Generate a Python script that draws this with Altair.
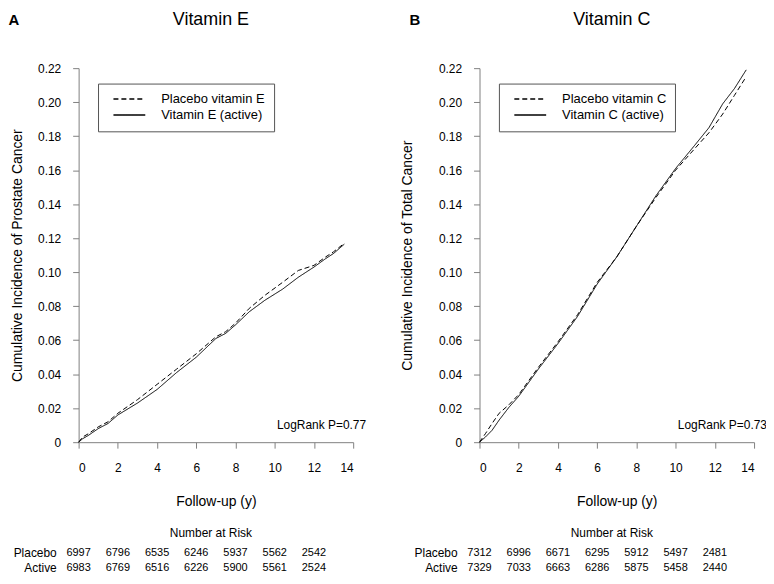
import altair as alt
import pandas as pd

FONT = "Liberation Sans"

# ---- Panel A: Vitamin E / prostate cancer ----
e_time = [0, 0.2, 0.5, 1, 1.5, 2, 3, 4, 5, 6, 7, 7.5, 8, 8.7, 9.5, 10.4, 11.2, 12, 12.6, 13, 13.55]
e_placebo = [0, 0.003, 0.005, 0.009, 0.012, 0.017, 0.025, 0.034, 0.043, 0.052, 0.062, 0.065, 0.070,
             0.0787, 0.0864, 0.094, 0.101, 0.104, 0.109, 0.112, 0.117]
e_active = [0, 0.002, 0.004, 0.008, 0.011, 0.016, 0.023, 0.031, 0.041, 0.050, 0.061, 0.064, 0.069,
            0.0767, 0.0835, 0.090, 0.097, 0.103, 0.108, 0.111, 0.1165]
e_names = ["Placebo vitamin E", "Vitamin E (active)"]
e_risk_placebo = [6997, 6796, 6535, 6246, 5937, 5562, 2542]
e_risk_active = [6983, 6769, 6516, 6226, 5900, 5561, 2524]

# ---- Panel B: Vitamin C / total cancer ----
c_time = [0, 0.3, 0.64, 1.0, 1.5, 2, 3, 4, 5, 6, 7, 8, 9, 10, 11, 11.7, 12.4, 13, 13.6]
c_placebo = [0, 0.005, 0.011, 0.017, 0.022, 0.028, 0.044, 0.059, 0.075, 0.094, 0.109, 0.127, 0.144,
             0.160, 0.173, 0.182, 0.193, 0.204, 0.215]
c_active = [0, 0.003, 0.007, 0.013, 0.0205, 0.027, 0.043, 0.058, 0.074, 0.093, 0.109, 0.127, 0.145,
            0.161, 0.175, 0.185, 0.199, 0.208, 0.219]
c_names = ["Placebo vitamin C", "Vitamin C (active)"]
c_risk_placebo = [7312, 6996, 6671, 6295, 5912, 5497, 2481]
c_risk_active = [7329, 7033, 6663, 6286, 5875, 5458, 2440]

risk_times = [0, 2, 4, 6, 8, 10, 12]
x_ticks = [0, 2, 4, 6, 8, 10, 12, 14]
y_ticks = [0, 0.02, 0.04, 0.06, 0.08, 0.10, 0.12, 0.14, 0.16, 0.18, 0.20, 0.22]
row_labels = ["Placebo", "Active"]

DASH = [5, 3]
W, H = 276, 376

X_SCALE = alt.Scale(domain=[0, 14], nice=False, zero=False)
X_AXIS = alt.Axis(values=x_ticks, title="Follow-up (y)", titlePadding=22,
                  labelPadding=14, format="d", labelOverlap=False)


def panel(letter, title, ytitle, times, placebo, active, names, risk_p, risk_a, pval, title_pad):
    df = pd.DataFrame({
        "time": times + times,
        "cum": placebo + active,
        "arm": [names[0]] * len(times) + [names[1]] * len(times),
    })
    x = alt.X("time:Q", scale=X_SCALE, axis=X_AXIS)
    y = alt.Y("cum:Q", scale=alt.Scale(domain=[0, 0.22], nice=False),
              axis=alt.Axis(values=y_ticks, title=ytitle, titlePadding=title_pad, labelPadding=12,
                            labelOverlap=False,
                            labelExpr="datum.value == 0 ? '0' : format(datum.value, '.2f')"))
    lines = alt.Chart(df).mark_line(color="black", strokeWidth=1).encode(
        x=x, y=y,
        strokeDash=alt.StrokeDash("arm:N", scale=alt.Scale(domain=names, range=[DASH, [1, 0]]),
                                  legend=None),
    )
    layers = [lines]
    one = pd.DataFrame({"k": [0]})
    # legend box
    layers.append(alt.Chart(one).mark_rect(fill="white", stroke="#555555", strokeWidth=1).encode(
        x=alt.value(20), x2=alt.value(197), y=alt.value(16), y2=alt.value(64)))
    for i, (nm, dash) in enumerate(zip(names, [DASH, [1, 0]])):
        layers.append(alt.Chart(one).mark_rule(color="black", strokeWidth=1.5, strokeDash=dash).encode(
            x=alt.value(35), x2=alt.value(67), y=alt.value(31 + 16 * i)))
        layers.append(alt.Chart(pd.DataFrame({"t": [nm]})).mark_text(
            align="left", baseline="middle", fontSize=13, font=FONT, color="black").encode(
            x=alt.value(83), y=alt.value(31 + 16 * i), text="t:N"))
    # p value
    layers.append(alt.Chart(pd.DataFrame({"t": [pval]})).mark_text(
        align="right", baseline="middle", fontSize=12, font=FONT, color="black").encode(
        x=alt.value(289), y=alt.value(359), text="t:N"))
    # titles
    layers.append(alt.Chart(pd.DataFrame({"t": [title]})).mark_text(
        align="center", baseline="middle", fontSize=18, font=FONT, color="black").encode(
        x=alt.value(133), y=alt.value(-48), text="t:N"))
    layers.append(alt.Chart(pd.DataFrame({"t": [letter]})).mark_text(
        align="center", baseline="middle", fontSize=15, fontWeight="bold", font=FONT, color="black").encode(
        x=alt.value(-65), y=alt.value(-48), text="t:N"))
    # number at risk table
    layers.append(alt.Chart(pd.DataFrame({"t": ["Number at Risk"]})).mark_text(
        align="center", baseline="middle", fontSize=12, font=FONT, color="black").encode(
        x=alt.value(133), y=alt.value(467), text="t:N"))
    for j, (lab, vals) in enumerate(zip(row_labels, [risk_p, risk_a])):
        ypix = 487 + 16 * j
        rdf = pd.DataFrame({"time": risk_times, "n": [str(v) for v in vals]})
        layers.append(alt.Chart(rdf).mark_text(
            align="center", baseline="middle", fontSize=11, font=FONT, color="black").encode(
            x=alt.X("time:Q", scale=X_SCALE, axis=X_AXIS), y=alt.value(ypix), text="n:N"))
        layers.append(alt.Chart(pd.DataFrame({"t": [lab]})).mark_text(
            align="right", baseline="middle", fontSize=12, font=FONT, color="black").encode(
            x=alt.value(-22), y=alt.value(ypix), text="t:N"))
    return alt.layer(*layers).properties(width=W, height=H)


pa = panel("A", "Vitamin E", "Cumulative Incidence of Prostate Cancer", e_time, e_placebo, e_active,
           e_names, e_risk_placebo, e_risk_active, "LogRank P=0.77", 13)
pb = panel("B", "Vitamin C", "Cumulative Incidence of Total Cancer", c_time, c_placebo, c_active,
           c_names, c_risk_placebo, c_risk_active, "LogRank P=0.73", 24)

chart = alt.hconcat(pa, pb, spacing=127, bounds="flush").properties(
    autosize=alt.AutoSizeParams(type="none"),
    padding={"left": 71, "top": 58, "right": 691, "bottom": 503},
).configure_view(
    stroke=None
).configure_axis(
    grid=False, domainColor="#808080", tickColor="#808080", tickSize=6,
    labelColor="black", titleColor="black", labelFont=FONT, titleFont=FONT,
    labelFontSize=12, titleFontSize=14, titleFontWeight="normal"
)

chart.save("out.html", embed_options={"renderer": "svg", "actions": False})
